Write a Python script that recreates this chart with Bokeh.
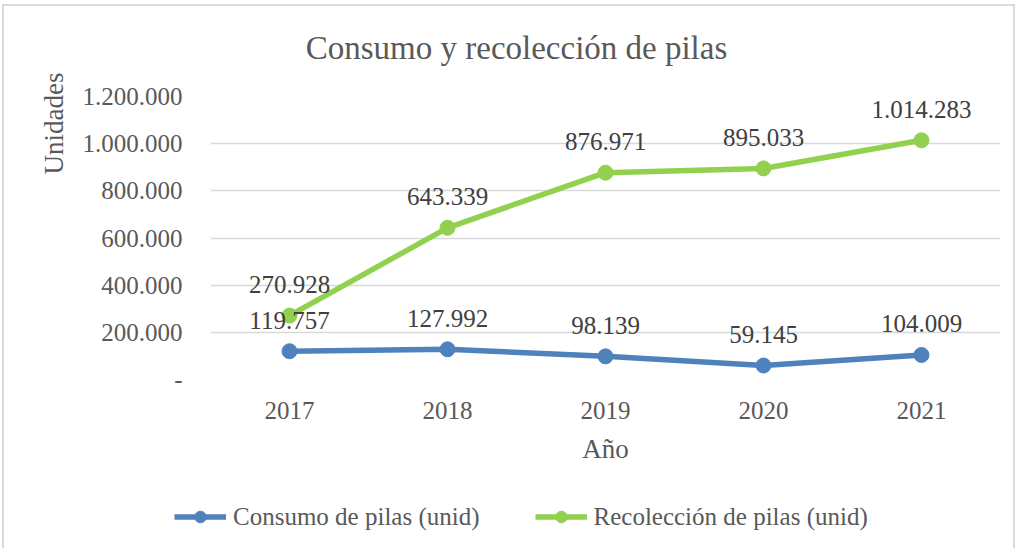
from bokeh.plotting import figure
from bokeh.layouts import column
from bokeh.models import (ColumnDataSource, FactorRange, Range1d, FixedTicker, LabelSet,
                          Legend, LegendItem, Title, Label)
from bokeh.embed import file_html
from bokeh.resources import INLINE

years = ["2017", "2018", "2019", "2020", "2021"]
consumo = [119757, 127992, 98139, 59145, 104009]
recoleccion = [270928, 643339, 876971, 895033, 1014283]
y_ticks = [0, 200000, 400000, 600000, 800000, 1000000, 1200000]
series_names = ["Consumo de pilas (unid)", "Recolección de pilas (unid)"]
chart_title = "Consumo y recolección de pilas"

def fmt(v):
    return "-" if v == 0 else f"{v:,}".replace(",", ".")

FONT = "Liberation Serif"
GRAY = "#595959"
BLUE = "#4f81bd"
GREEN = "#92d050"
W = 1009

src = ColumnDataSource(dict(
    x=years, c=consumo, r=recoleccion,
    cl=[fmt(v) for v in consumo], rl=[fmt(v) for v in recoleccion],
))

def strip(h, x_range, y_range):
    f = figure(width=W, height=h, x_range=x_range, y_range=y_range,
               output_backend="svg", toolbar_location=None, x_axis_type=None,
               y_axis_type=None, min_border=0)
    if "frame_align" in f.properties():
        f.frame_align = False
    f.outline_line_color = None
    f.grid.grid_line_color = None
    f.background_fill_color = "white"
    f.border_fill_color = "white"
    return f

# title strip (pixel-scaled ranges)
t = strip(60, Range1d(0, W), Range1d(0, 60))
t.add_layout(Label(x=512, y=19, text=chart_title, text_align="center", text_baseline="middle",
                   text_font=FONT, text_font_size="33px", text_color=GRAY))

p = figure(width=W, height=410, x_range=FactorRange(*years), y_range=Range1d(0, 1200000),
           output_backend="svg", toolbar_location=None,
           min_border_left=206, min_border_right=13, min_border_top=30, min_border_bottom=97)
if "frame_align" in p.properties():
    p.frame_align = False
p.outline_line_color = None
p.background_fill_color = "white"
p.border_fill_color = "white"

p.xgrid.grid_line_color = None
p.ygrid.grid_line_color = "#d9d9d9"
p.ygrid.grid_line_width = 1.5

p.yaxis.ticker = FixedTicker(ticks=y_ticks)
p.yaxis.major_label_overrides = {v: fmt(v) for v in y_ticks}
for ax in (p.xaxis[0], p.yaxis[0]):
    ax.axis_line_color = None
    ax.major_tick_line_color = None
    ax.minor_tick_line_color = None
    ax.major_label_text_font = FONT
    ax.major_label_text_font_size = "25px"
    ax.major_label_text_color = GRAY
    ax.axis_label_text_font = FONT
    ax.axis_label_text_font_size = "27px"
    ax.axis_label_text_font_style = "normal"
    ax.axis_label_text_color = GRAY
p.xaxis.axis_label = "Año"
p.yaxis.major_label_standoff = 22
p.xaxis.major_label_standoff = 16
p.xaxis.axis_label_standoff = 12

ytitle = Title(text="Unidades", align="right", offset=-24, standoff=21,
               text_font=FONT, text_font_size="27px", text_font_style="normal",
               text_color=GRAY)
p.add_layout(ytitle, "left")

p.line("x", "c", source=src, line_color=BLUE, line_width=5.5)
p.scatter("x", "c", source=src, size=15, fill_color=BLUE, line_color=BLUE)
p.line("x", "r", source=src, line_color=GREEN, line_width=5.5)
p.scatter("x", "r", source=src, size=15, fill_color=GREEN, line_color=GREEN)

for col, lab in (("c", "cl"), ("r", "rl")):
    ls = LabelSet(x="x", y=col, text=lab, source=src, text_align="center",
                  text_baseline="middle", y_offset=31, text_font=FONT,
                  text_font_size="25px", text_color="#404040")
    p.add_layout(ls)

# legend strip below the chart (its series glyphs sit outside its visible y range)
q = strip(72, FactorRange(*years), Range1d(-2, -1))
items = []
for name, col, colr in zip(series_names, ("c", "r"), (BLUE, GREEN)):
    lr = q.line("x", col, source=src, line_color=colr, line_width=5.5)
    sr = q.scatter("x", col, source=src, size=15, fill_color=colr, line_color=colr)
    items.append(LegendItem(label=name, renderers=[lr, sr]))
legend = Legend(items=items, orientation="horizontal", location=(170, 17),
                label_text_font=FONT, label_text_font_size="25px", label_text_color=GRAY,
                glyph_width=52, glyph_height=29, label_height=29, spacing=55, padding=0,
                margin=0, label_standoff=7,
                border_line_color=None, background_fill_alpha=0)
q.add_layout(legend, "center")

layout = column(t, p, q, spacing=0)
layout.styles = {"margin-left": "2px", "margin-top": "4px",
                 "border-left": "2px solid #d9d9d9", "border-top": "2px solid #d9d9d9",
                 "border-right": "2px solid #d9d9d9"}

open("out.html", "w").write(file_html(layout, INLINE))
